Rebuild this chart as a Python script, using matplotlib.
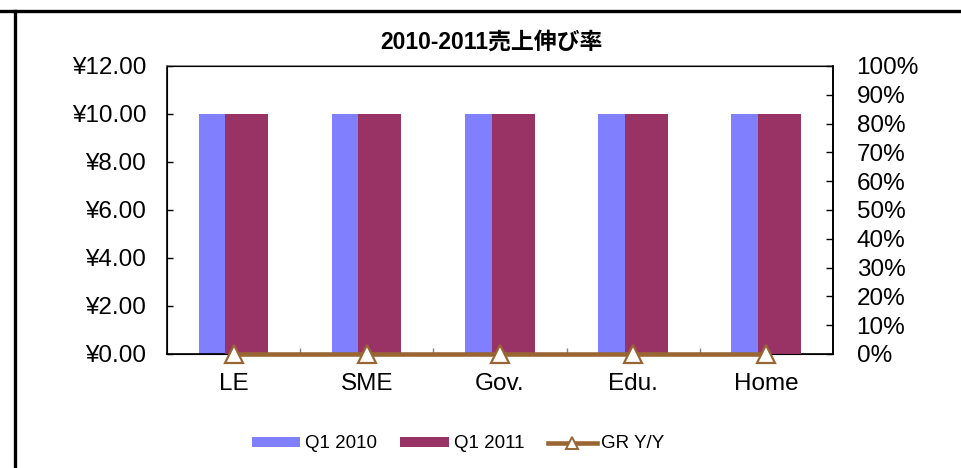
import matplotlib
matplotlib.use("Agg")
import matplotlib.pyplot as plt
from matplotlib.lines import Line2D
from matplotlib.patches import Patch
from matplotlib.ticker import FuncFormatter, MultipleLocator
import numpy as np

plt.rcParams['font.family'] = ['Liberation Sans', 'Noto Sans CJK JP']

# data
categories = ["LE", "SME", "Gov.", "Edu.", "Home"]
q1_2010 = [10, 10, 10, 10, 10]
q1_2011 = [10, 10, 10, 10, 10]
gr_yy = [0, 0, 0, 0, 0]
title = "2010-2011売上伸び率"

blue = "#8080FF"
purple = "#993366"
brown = "#996633"

fig = plt.figure(figsize=(9.62, 4.68), dpi=100)
ax = fig.add_axes([167/962, 1 - 354/468, (833 - 167)/962, (354 - 66)/468])

x = np.arange(len(categories))
bw = 0.323
ax.bar(x - 0.102, q1_2010, width=bw, color=blue, zorder=2)
ax.bar(x + 0.098, q1_2011, width=bw, color=purple, zorder=3)

ax.set_xlim(-0.5, len(categories) - 0.5)
ax.set_ylim(0, 12)
ax.yaxis.set_major_locator(MultipleLocator(2))
ax.yaxis.set_major_formatter(FuncFormatter(lambda v, p: "¥%.2f" % v))
ax.tick_params(axis='y', direction='in', length=4, width=1, pad=15, labelsize=17.5, colors='black')

# category labels centred, ticks between categories
ax.set_xticks(x)
ax.set_xticklabels(categories)
ax.tick_params(axis='x', length=0, pad=14, labelsize=17.5)
ax.set_xticks(np.arange(0.5, len(categories) - 0.5, 1), minor=True)
ax.tick_params(axis='x', which='minor', direction='in', length=4, width=1, color='#808080')

ax.spines['top'].set_color('#808080')
ax.spines['left'].set_color('black')
ax.spines['bottom'].set_color('black')
for s in ax.spines.values():
    s.set_linewidth(1.2)

ax2 = ax.twinx()
ax2.set_ylim(0, 1)
ax2.yaxis.set_major_locator(MultipleLocator(0.1))
ax2.yaxis.set_major_formatter(FuncFormatter(lambda v, p: "%d%%" % round(v * 100)))
ax2.tick_params(axis='y', direction='in', length=5, width=1, pad=17, labelsize=17.5)
ax2.spines['right'].set_color('black')
ax2.spines['right'].set_linewidth(1.2)
ax2.plot(x, gr_yy, color=brown, lw=3.3, marker='^', markersize=13,
         markerfacecolor='white', markeredgecolor=brown, markeredgewidth=1.6,
         clip_on=False, zorder=5)

fig.text(491/962, 1 - 42/468, title, ha='center', va='center', fontsize=16.5, fontweight='bold')

handles = [
    Patch(facecolor=blue, edgecolor='none'),
    Patch(facecolor=purple, edgecolor='none'),
    Line2D([], [], color=brown, lw=3.3, marker='^', markersize=8,
           markerfacecolor='white', markeredgecolor=brown, markeredgewidth=1.4),
]
fig.legend(handles, ["Q1 2010", "Q1 2011", "GR Y/Y"], loc='center',
           bbox_to_anchor=(458/962, 1 - 444/468), ncol=3, frameon=False,
           fontsize=13.5, handlelength=2.6, handleheight=0.5,
           handletextpad=0.25, columnspacing=1.25)

# frame lines of the chart area
fig.add_artist(Line2D([0, 1], [1 - 11/468, 1 - 11/468], color='black', lw=2.4,
                      transform=fig.transFigure))
fig.add_artist(Line2D([15/962, 15/962], [0, 1 - 11/468], color='black', lw=2.4,
                      transform=fig.transFigure))

fig.savefig("out.png", dpi=100)
